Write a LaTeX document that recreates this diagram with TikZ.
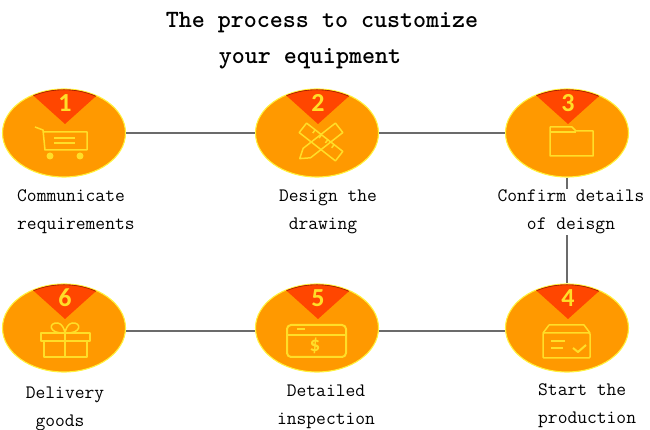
\documentclass[tikz,border=0pt]{standalone}
\usepackage{fontspec}
\newfontfamily\digitfont{Carlito}
\usetikzlibrary{shapes.geometric,calc}
\definecolor{discorange}{RGB}{255,153,0}
\definecolor{discrim}{RGB}{255,242,60}
\definecolor{tipred}{RGB}{255,70,0}
\definecolor{tipdark}{RGB}{150,30,0}
\definecolor{iconyellow}{RGB}{255,222,40}
\tikzset{
  disc/.style={ellipse,fill=discorange,draw=discrim,line width=1.1pt,minimum width=123pt,minimum height=88pt,inner sep=0pt},
  num/.style={text=iconyellow,font=\digitfont\bfseries\fontsize{26}{26}\selectfont,inner sep=0pt},
  icon/.style={draw=iconyellow,line width=1.5pt,line join=round},
  label/.style={align=center,inner sep=1pt,font=\ttfamily\fontsize{19}{28}\selectfont},
  link/.style={draw=black!58,line width=1.1pt}
}
% red corner with its number, cut to the disc
\newcommand{\badge}[2]{
  \begin{scope}
    \clip (#1) ellipse [x radius=61,y radius=43.5];
    \fill [tipred] ($(#1)+(-38.5,44.5)$) -- ($(#1)+(40.5,44.5)$) -- ($(#1)+(1,9)$) -- cycle;
    \begin{scope}
      \clip ($(#1)+(-38.5,44.5)$) -- ($(#1)+(40.5,44.5)$) -- ($(#1)+(1,9)$) -- cycle;
      \draw [tipdark,line width=1.2pt] (#1) ellipse [x radius=61,y radius=43.5];
    \end{scope}
  \end{scope}
  \node [num] (#1num) at ($(#1)+(1,30)$) {#2};
}
\begin{document}
\begin{tikzpicture}[x=1pt,y=1pt]
  \useasboundingbox (0,0) rectangle (650,430);
  \node [align=center,inner sep=0pt,font=\ttfamily\bfseries\fontsize{24.8}{36}\selectfont] (title) at (322,389)
    {The process to customize\\\hspace*{-24pt}your equipment};
  \path (64,297)  node[disc](one)   {}
        ++(253,0) node[disc](two)   {}
        ++(250,0) node[disc](three) {}
        ++(0,-195) node[disc](four) {}
        ++(-250,0) node[disc](five) {}
        ++(-253,0) node[disc](six)  {};
  \draw [link] (one) to (two);
  \draw [link] (two) to (three);
  \draw [link] (three) to (four);
  \draw [link] ([yshift=-3pt]four.west) to ([yshift=-3pt]five.east);
  \draw [link] ([yshift=-3pt]five.west) to ([yshift=-3pt]six.east);
  \badge{one}{1}
  \badge{two}{2}
  \badge{three}{3}
  \badge{four}{4}
  \badge{five}{5}
  \badge{six}{6}
  % cart
  \begin{scope}[shift={(one)}]
    \draw [icon] (-29,6) -- (-21,3) -- (-19,-17) -- (23,-17) -- (23,1) -- (-20,1);
    \draw [icon] (-10,-5) -- (11,-5) (-10,-10) -- (11,-10);
    \fill [iconyellow] (-14,-23) circle (3.5) (16,-23) circle (3.5);
  \end{scope}
  % pencil and ruler
  \begin{scope}[shift={(two)}]
    \begin{scope}[shift={(4,-9)},rotate=-38]
      \draw [icon] (-23,-6) rectangle (23,6);
      \draw [icon] (-12,6) -- (-12,2) (-4,6) -- (-4,2) (4,6) -- (4,2) (12,6) -- (12,2);
    \end{scope}
    \begin{scope}[shift={(4,-9)},rotate=38]
      \draw [icon] (-27,0) -- (-18,-6) -- (23,-6) -- (23,6) -- (-18,6) -- cycle;
    \end{scope}
  \end{scope}
  % folder
  \begin{scope}[shift={(three)}]
    \draw [icon] (-17,-23) -- (-17,6) -- (5,6) -- (9,2) -- (26,2) -- (26,-23) -- cycle;
    \draw [icon] (-17,1) -- (9,1);
  \end{scope}
  % box
  \begin{scope}[shift={(four)}]
    \draw [icon] (-24,-5) -- (-18,3) -- (17,3) -- (23,-5);
    \draw [icon,rounded corners=1pt] (-24,-5) rectangle (23,-30);
    \draw [icon] (-16,-13) -- (-2,-13) (-16,-20) -- (-4,-20);
    \draw [icon,line width=2pt] (6,-20) -- (11,-24) -- (19,-17);
  \end{scope}
  % card
  \begin{scope}[shift={(five)}]
    \draw [icon,line width=2pt,rounded corners=4pt] (-30,3) rectangle (29,-29);
    \draw [icon,line width=2pt] (-30,-7) -- (29,-7);
    \draw [icon] (-20,-1) -- (-12,-1);
    \node [text=iconyellow,inner sep=0pt,font=\digitfont\bfseries\fontsize{21}{21}\selectfont] (dollar) at (-2,-18) {\$};
  \end{scope}
  % gift
  \begin{scope}[shift={(six)}]
    \draw [icon] (-23,-5) rectangle (26,-13);
    \draw [icon] (-20,-13) rectangle (23,-29);
    \draw [icon] (1,-5) -- (1,-29);
    \draw [icon] (1,-5) .. controls (-16,-6) and (-16,6) .. (-6,5) .. controls (-2,4) and (0,0) .. (1,-5);
    \draw [icon] (1,-5) .. controls (18,-6) and (18,6) .. (8,5) .. controls (4,4) and (2,0) .. (1,-5);
  \end{scope}
  \node [label,align=left,anchor=west] (onetext) at (16,218) {Communicate\\requirements};
  \node [label] (twotext) at (328,218) {Design the\\drawing\hspace*{10pt}};
  \node [label,fill=white] (threetext) at (571,218) {Confirm details\\of deisgn};
  \node [label,align=left,anchor=west] (fourtext) at (537,24) {Start the\\production};
  \node [label] (fivetext) at (326,23) {Detailed\\inspection};
  \node [label] (sixtext) at (65,21) {Delivery\\goods\hspace*{10pt}};
\end{tikzpicture}
\end{document}
